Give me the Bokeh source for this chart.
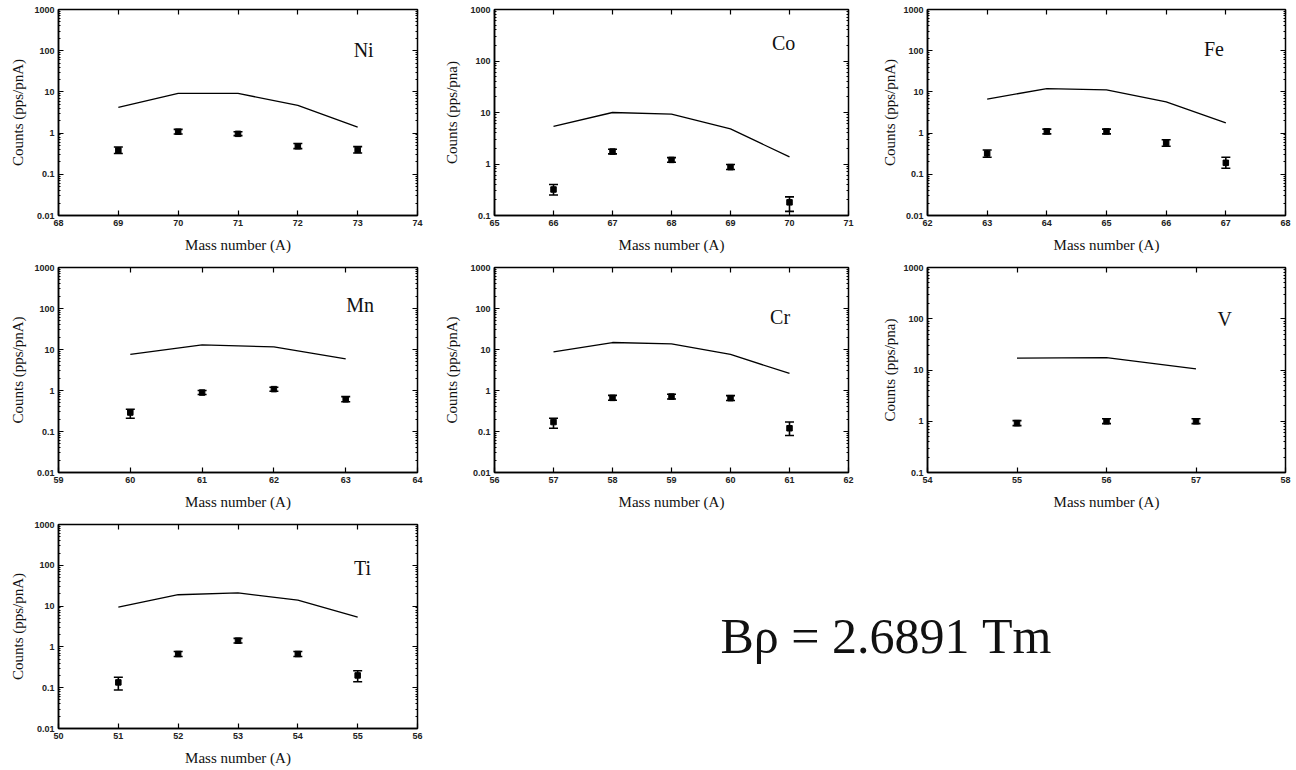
import math
from bokeh.plotting import figure
from bokeh.models import (ColumnDataSource, Whisker, TeeHead, FixedTicker, LinearAxis,
                          LogAxis, CustomJSTickFormatter, Label, Range1d)
from bokeh.layouts import column, row
from bokeh.embed import file_html
from bokeh.resources import INLINE

# ---------------- data ----------------
ni_A = [69, 70, 71, 72, 73]
ni_calc = [4.2, 9.2, 9.2, 4.7, 1.4]
ni_meas = [0.38, 1.08, 0.96, 0.48, 0.39]
ni_lo = [0.32, 0.95, 0.87, 0.42, 0.33]
ni_hi = [0.46, 1.23, 1.08, 0.56, 0.47]

co_A = [66, 67, 68, 69, 70]
co_calc = [5.4, 10.0, 9.3, 4.8, 1.37]
co_meas = [0.32, 1.74, 1.2, 0.87, 0.18]
co_lo = [0.25, 1.57, 1.08, 0.78, 0.12]
co_hi = [0.40, 1.93, 1.33, 0.98, 0.23]

fe_A = [63, 64, 65, 66, 67]
fe_calc = [6.7, 12.0, 11.2, 5.7, 1.77]
fe_meas = [0.32, 1.1, 1.1, 0.58, 0.19]
fe_lo = [0.26, 0.96, 0.96, 0.48, 0.14]
fe_hi = [0.39, 1.25, 1.25, 0.69, 0.26]

mn_A = [60, 61, 62, 63]
mn_calc = [7.6, 13.0, 11.6, 5.9]
mn_meas = [0.29, 0.89, 1.08, 0.61]
mn_lo = [0.21, 0.80, 0.96, 0.53]
mn_hi = [0.35, 1.0, 1.2, 0.71]

cr_A = [57, 58, 59, 60, 61]
cr_calc = [8.8, 14.8, 13.7, 7.6, 2.6]
cr_meas = [0.17, 0.66, 0.71, 0.65, 0.12]
cr_lo = [0.12, 0.58, 0.62, 0.57, 0.08]
cr_hi = [0.21, 0.76, 0.81, 0.75, 0.17]

v_A = [55, 56, 57]
v_calc = [17.0, 17.5, 10.5]
v_meas = [0.92, 1.0, 1.0]
v_lo = [0.82, 0.9, 0.9]
v_hi = [1.03, 1.12, 1.12]

ti_A = [51, 52, 53, 54, 55]
ti_calc = [9.4, 19.0, 21.0, 14.0, 5.4]
ti_meas = [0.135, 0.67, 1.42, 0.67, 0.2]
ti_lo = [0.088, 0.58, 1.25, 0.58, 0.14]
ti_hi = [0.18, 0.77, 1.62, 0.77, 0.26]

x_title = "Mass number (A)"
y_title_A = "Counts (pps/pnA)"
y_title_a = "Counts (pps/pna)"
brho_text = "B\u03c1 = 2.6891 Tm"

SERIF = "Liberation Serif"
SANS = "Liberation Sans"


def panel(A, calc, meas, lo, hi, xr, yr, ytitle, elem, elem_x, elem_dy,
          w, h, bl, br, bt, bb, ystand):
    p = figure(width=w, height=h, x_range=Range1d(*xr), y_range=Range1d(*yr),
               y_axis_type="log", output_backend="svg", toolbar_location=None,
               min_border_left=bl, min_border_right=br, min_border_top=bt,
               min_border_bottom=bb)
    p.xgrid.visible = False
    p.ygrid.visible = False
    p.outline_line_color = "black"
    p.outline_line_width = 1.5
    p.background_fill_color = "white"
    p.border_fill_color = "white"

    lo10, hi10 = int(round(math.log10(yr[0]))), int(round(math.log10(yr[1])))
    yt = [10.0 ** k for k in range(lo10, hi10 + 1)]
    ym = [m * 10.0 ** k for k in range(lo10, hi10) for m in range(2, 10)]
    xt = list(range(int(xr[0]), int(xr[1]) + 1))
    fmt = CustomJSTickFormatter(code="return tick >= 1 ? tick.toFixed(0) : tick.toPrecision(1);")
    blank = CustomJSTickFormatter(code="return '';")

    xa = p.xaxis[0]
    xa.ticker = FixedTicker(ticks=xt, minor_ticks=[])
    ya = p.yaxis[0]
    ya.ticker = FixedTicker(ticks=yt, minor_ticks=ym)
    ya.formatter = fmt
    for ax in (xa, ya):
        ax.major_tick_in = 5
        ax.major_tick_out = 0
        ax.minor_tick_in = 2
        ax.minor_tick_out = 0
        ax.axis_line_width = 1.5
        ax.major_tick_line_width = 1.2
        ax.major_label_text_font = SANS
        ax.major_label_text_font_size = "9px"
        ax.major_label_text_font_style = "bold"
        ax.major_label_text_color = "#222222"
        ax.axis_label_text_font = SERIF
        ax.axis_label_text_font_size = "15px"
        ax.axis_label_text_font_style = "normal"
        ax.axis_label_text_color = "#111111"
        ax.major_label_standoff = 4
    xa.axis_label = x_title
    xa.axis_label_standoff = 8
    ya.axis_label = ytitle
    ya.axis_label_standoff = ystand

    top = LinearAxis(ticker=FixedTicker(ticks=xt, minor_ticks=[]), formatter=blank,
                     major_label_standoff=0, major_label_text_font_size="9px",
                     major_tick_in=5, major_tick_out=0, major_tick_line_width=1.2,
                     axis_line_color=None)
    p.add_layout(top, "above")
    right = LogAxis(ticker=FixedTicker(ticks=yt, minor_ticks=ym), formatter=blank,
                    major_label_standoff=0, major_label_text_font_size="9px",
                    major_tick_in=5, major_tick_out=0, minor_tick_in=2, minor_tick_out=0,
                    major_tick_line_width=1.2, axis_line_color=None)
    p.add_layout(right, "right")

    p.line(A, calc, line_color="black", line_width=1.3)
    src = ColumnDataSource(dict(x=A, y=meas, lo=lo, hi=hi))
    p.add_layout(Whisker(source=src, base="x", upper="hi", lower="lo", dimension="height",
                         line_width=1.6, line_color="black",
                         upper_head=TeeHead(size=9, line_width=1.6, line_color="black"),
                         lower_head=TeeHead(size=9, line_width=1.6, line_color="black")))
    p.scatter("x", "y", source=src, marker="square", size=5.5, color="black")

    frame_h = h - bt - bb
    dec = math.log10(yr[1]) - math.log10(yr[0])
    ey = 10 ** (math.log10(yr[1]) - elem_dy / frame_h * dec)
    p.add_layout(Label(x=elem_x, y=ey, text=elem, text_font=SERIF, text_font_size="20px",
                       text_align="center", text_baseline="middle", text_color="#111111"))
    return p


# column geometry: (width, border_left, border_right, y-title standoff)
C1 = (430, 58, 13, 5)
C2 = (440, 64, 22, 7)
C3 = (426, 57, 11, 2)
# row geometry: (height, border_top, border_bottom)
R1 = (255, 9, 40)
R2 = (257, 12, 40)
R3 = (256, 12, 39)


def mk(A, calc, meas, lo, hi, xr, yr, yt, elem, ex, edy, C, R):
    return panel(A, calc, meas, lo, hi, xr, yr, yt, elem, ex, edy,
                 C[0], R[0], C[1], C[2], R[1], R[2], C[3])


p_ni = mk(ni_A, ni_calc, ni_meas, ni_lo, ni_hi, (68, 74), (0.01, 1000), y_title_A, "Ni", 73.1, 40, C1, R1)
p_co = mk(co_A, co_calc, co_meas, co_lo, co_hi, (65, 71), (0.1, 1000), y_title_a, "Co", 69.9, 33, C2, R1)
p_fe = mk(fe_A, fe_calc, fe_meas, fe_lo, fe_hi, (62, 68), (0.01, 1000), y_title_A, "Fe", 66.8, 39, C3, R1)
p_mn = mk(mn_A, mn_calc, mn_meas, mn_lo, mn_hi, (59, 64), (0.01, 1000), y_title_A, "Mn", 63.2, 37, C1, R2)
p_cr = mk(cr_A, cr_calc, cr_meas, cr_lo, cr_hi, (56, 62), (0.01, 1000), y_title_A, "Cr", 60.84, 49, C2, R2)
p_v = mk(v_A, v_calc, v_meas, v_lo, v_hi, (54, 58), (0.1, 1000), y_title_a, "V", 57.32, 51, C3, R2)
p_ti = mk(ti_A, ti_calc, ti_meas, ti_lo, ti_hi, (50, 56), (0.01, 1000), y_title_A, "Ti", 55.08, 44, C1, R3)

tw, th = 866, 256
p_txt = figure(width=tw, height=th, x_range=Range1d(0, tw), y_range=Range1d(0, th),
               output_backend="svg", toolbar_location=None, min_border=0,
               x_axis_location=None, y_axis_location=None)
p_txt.xgrid.visible = False
p_txt.ygrid.visible = False
p_txt.outline_line_color = None
p_txt.add_layout(Label(x=290, y=116, text=brho_text, text_font=SERIF, text_font_size="50px",
                       text_align="left", text_baseline="alphabetic", text_color="#111111"))

layout = column(row(p_ni, p_co, p_fe), row(p_mn, p_cr, p_v), row(p_ti, p_txt))

open("out.html", "w").write(file_html(layout, INLINE))
